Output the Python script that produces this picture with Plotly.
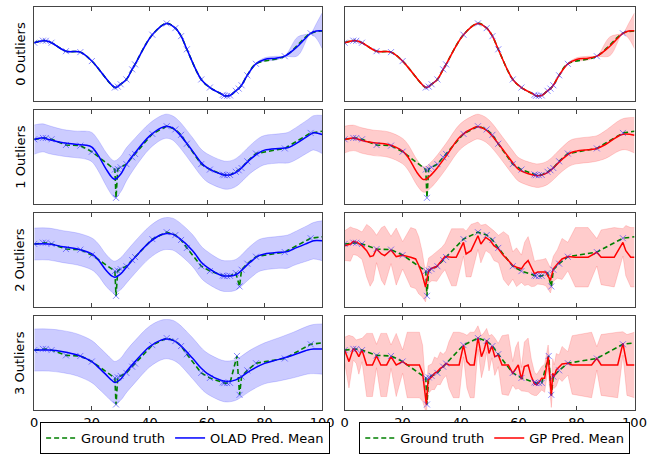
import plotly.graph_objects as go

# ---------------- data ----------------
X_TICKS = [0, 20, 40, 60, 80, 100]
ROW_LABELS = ["0 Outliers", "1 Outliers", "2 Outliers", "3 Outliers"]
Y_RANGES = [[0, 10], [-4.0, 10.8], [-4.9, 11.6], [-4.1, 12.0]]
TRUTH_END_X = 100
TRUTH_END_Y = 7.45

# observed samples (markers) per row, incl. outliers
row0_x = [0, 3, 4, 6, 11, 16, 20, 28, 29, 30, 32, 34, 35, 41, 46, 49, 51, 53, 58, 61, 65.5, 66, 67, 68, 70, 71, 72, 74, 77, 87, 96]
row0_y = [6.2, 6.42, 6.4, 6.2, 5.3, 5.2, 4.25, 1.44, 1.54, 1.79, 2.3, 3.37, 3.9, 7.05, 8.25, 7.75, 6.9, 5.5, 2.3, 1.44, 0.67, 0.56, 0.56, 0.6, 1.09, 1.33, 1.68, 2.74, 3.96, 4.77, 7.2]
row1_x = [0, 3, 4, 6, 11, 16, 20, 28, 28.4, 29, 30, 32, 34, 35, 41, 46, 49, 51, 53, 58, 61, 65.5, 66, 67, 68, 70, 71, 72, 74, 77, 87, 96]
row1_y = [6.2, 6.42, 6.4, 6.2, 5.3, 5.2, 4.25, 1.44, -3.0, 1.54, 1.79, 2.3, 3.37, 3.9, 7.05, 8.25, 7.75, 6.9, 5.5, 2.3, 1.44, 0.67, 0.56, 0.56, 0.6, 1.09, 1.33, 1.68, 2.74, 3.96, 4.77, 7.2]
row2_x = [0, 3, 4, 6, 11, 16, 20, 28, 28.4, 29, 30, 32, 34, 35, 41, 46, 49, 51, 53, 58, 61, 65.5, 66, 67, 68, 70, 71.3, 72, 74, 77, 87, 96]
row2_y = [6.2, 6.42, 6.4, 6.2, 5.3, 5.2, 4.25, 1.44, -2.9, 1.54, 1.79, 2.3, 3.37, 3.9, 7.05, 8.25, 7.75, 6.9, 5.5, 2.3, 1.44, 0.67, 0.56, 0.56, 0.6, 1.09, -1.25, 1.68, 2.74, 3.96, 4.77, 7.2]
row3_x = [0, 3, 4, 6, 11, 16, 20, 28, 28.4, 29, 30, 32, 34, 35, 41, 46, 49, 51, 53, 58, 61, 65.5, 66, 67, 68, 70.4, 71.3, 72, 74, 77, 87, 96]
row3_y = [6.2, 6.42, 6.4, 6.2, 5.3, 5.2, 4.25, 1.44, -3.1, 1.54, 1.79, 2.3, 3.37, 3.9, 7.05, 8.25, 7.75, 6.9, 5.5, 2.3, 1.44, 0.67, 0.56, 0.56, 0.6, 5.2, -1.45, 1.68, 2.74, 3.96, 4.77, 7.2]

# row 0 prediction (same for OLAD and GP)
pred0_x = [0, 3, 4, 6, 11, 16, 20, 28, 29, 30, 32, 34, 35, 41, 46, 49, 51, 53, 58, 61, 65.5, 66, 67, 68, 70, 71, 72, 74, 77, 80, 84, 87, 91.5, 96, 98, 100]
pred0_mean = [6.2, 6.42, 6.4, 6.2, 5.3, 5.2, 4.25, 1.44, 1.54, 1.79, 2.3, 3.37, 3.9, 7.05, 8.25, 7.75, 6.9, 5.5, 2.3, 1.44, 0.67, 0.56, 0.56, 0.6, 1.09, 1.33, 1.68, 2.74, 3.96, 4.42, 4.56, 4.77, 5.82, 7.2, 7.45, 7.47]
pred0_hw = [0.06, 0.06, 0.06, 0.06, 0.06, 0.06, 0.06, 0.06, 0.06, 0.06, 0.06, 0.06, 0.06, 0.06, 0.06, 0.06, 0.06, 0.06, 0.06, 0.06, 0.06, 0.06, 0.06, 0.06, 0.06, 0.06, 0.06, 0.06, 0.06, 0.18, 0.2, 0.05, 1.0, 0.05, 0.8, 1.9]

# OLAD predictions
olad1_x = [0, 3, 5, 10, 15, 18, 20, 22, 25, 27, 28, 30, 32, 35, 40, 44, 46, 48, 50, 55, 58, 60, 65, 67, 70, 75, 78, 80, 85, 88, 90, 95, 97, 100]
olad1_mean = [6.16, 6.43, 6.16, 5.64, 5.38, 5.28, 4.97, 3.82, 1.48, 0.2, -0.09, 0.7, 2.26, 4.08, 6.69, 7.99, 8.25, 7.99, 7.21, 4.34, 2.52, 1.74, 0.7, 0.54, 0.96, 3.04, 4.08, 4.5, 4.76, 4.86, 5.28, 6.69, 7.21, 6.95]
olad1_hw = [2.3, 2.2, 2.2, 2.1, 2.1, 2.2, 2.3, 2.4, 2.6, 2.8, 2.9, 2.8, 2.6, 2.3, 2.0, 1.9, 1.9, 1.9, 2.0, 2.1, 2.1, 2.2, 2.2, 2.2, 2.2, 2.2, 2.3, 2.3, 2.3, 2.4, 2.5, 2.6, 2.7, 3.0]
olad2_x = [0, 5, 10, 15, 20, 22, 25, 27, 28, 30, 32, 35, 40, 44, 46, 48, 50, 55, 58, 60, 65, 67, 70, 75, 78, 80, 85, 88, 90, 95, 97, 100]
olad2_mean = [6.18, 6.18, 5.72, 5.31, 4.44, 3.57, 1.54, 0.56, 0.38, 0.96, 2.12, 3.86, 6.47, 7.8, 8.03, 7.92, 7.34, 5.02, 2.99, 2.12, 0.67, 0.56, 0.79, 2.99, 4.15, 4.44, 4.73, 4.85, 5.31, 6.35, 6.76, 6.76]
olad2_hw = [2.8, 2.8, 2.8, 2.8, 2.8, 2.8, 2.8, 2.8, 2.8, 2.8, 2.8, 2.8, 2.8, 2.8, 2.8, 2.8, 2.8, 2.8, 2.8, 2.8, 2.7, 2.7, 2.7, 2.8, 2.8, 2.8, 2.8, 2.9, 2.9, 3.1, 3.2, 3.5]
olad3_x = [0, 5, 10, 15, 20, 22, 25, 27, 28, 30, 32, 35, 40, 44, 46, 48, 50, 55, 58, 60, 65, 67, 70, 72, 75, 80, 85, 90, 95, 97, 100]
olad3_mean = [6.21, 6.21, 5.93, 5.36, 4.23, 3.38, 1.96, 1.0, 0.66, 1.22, 2.53, 4.23, 6.78, 7.91, 8.08, 7.91, 7.35, 4.8, 3.1, 2.24, 1.0, 0.83, 1.11, 1.68, 2.7, 3.94, 4.62, 5.36, 6.21, 6.38, 6.38]
olad3_hw = [3.6, 3.6, 3.6, 3.6, 3.6, 3.6, 3.6, 3.6, 3.6, 3.6, 3.6, 3.6, 3.5, 3.4, 3.35, 3.4, 3.4, 3.5, 3.5, 3.5, 3.5, 3.5, 3.5, 3.5, 3.5, 3.5, 3.7, 3.9, 4.1, 4.2, 4.3]

# GP predictions
gp1_x = [0, 3, 6, 10, 15, 20, 22, 25, 27, 28, 30, 32, 35, 40, 45, 46, 48, 50, 55, 58, 60, 65, 67, 70, 75, 78, 80, 85, 87, 90, 95, 97, 100]
gp1_mean = [6.16, 6.42, 6.0, 5.64, 5.38, 4.34, 3.3, 0.95, -0.09, -0.09, 0.69, 1.74, 3.56, 6.68, 8.09, 8.19, 7.88, 7.2, 4.34, 2.52, 1.47, 0.59, 0.49, 0.95, 3.04, 4.08, 4.34, 4.6, 4.76, 5.38, 6.84, 7.05, 6.84]
gp1_hw = [2.1, 2.0, 2.0, 2.0, 2.0, 2.0, 2.0, 2.0, 2.0, 2.0, 2.0, 2.0, 2.0, 2.0, 1.95, 1.95, 1.95, 1.95, 1.9, 1.9, 1.85, 1.85, 1.85, 1.85, 1.9, 2.0, 2.0, 2.0, 2.0, 2.2, 2.4, 2.5, 2.8]

gp2_x = [0, 2, 3, 4.3, 6, 7.6, 8.8, 9.9, 11, 12.7, 13.8, 16, 17.8, 20, 22.8, 24.5, 25.6, 26.7, 27.9, 28.4, 29, 30.1, 31.8, 33.5, 34.6, 36.9, 38.5, 41, 41.9, 43.6, 46, 47, 48.7, 50.3, 51.5, 53.1, 54.8, 56.5, 58, 59.3, 61, 62.1, 63.3, 64.4, 65.5, 66.6, 68.3, 69.4, 71, 72, 73.4, 75, 77, 79.6, 84, 87, 88.5, 93, 96, 97, 98.7, 100]
gp2_mean = [5.89, 6.18, 6.65, 6.47, 5.89, 5.02, 3.98, 4.15, 5.31, 4.44, 4.15, 5.14, 3.98, 4.2, 3.86, 3.57, 2.42, 0.97, -1.35, 0.1, 1.55, 1.95, 2.24, 3.28, 3.98, 3.86, 3.86, 6.47, 4.44, 5.02, 7.63, 6.18, 7.34, 6.76, 5.89, 5.31, 4.15, 3.28, 2.42, 2.12, 1.84, 2.7, 3.28, 2.12, 0.97, 1.26, 1.26, 1.26, -0.19, 1.84, 2.7, 3.57, 3.98, 3.86, 3.86, 4.73, 3.86, 3.86, 6.47, 5.02, 3.86, 3.86]
gp2_hw = [2.6, 3.0, 2.3, 2.3, 2.4, 4.6, 5.2, 4.4, 2.4, 4.6, 5.2, 2.4, 5.0, 2.4, 5.2, 5.2, 5.0, 4.0, 2.6, 2.6, 2.2, 2.2, 2.6, 2.3, 2.3, 5.0, 5.0, 2.4, 4.0, 4.6, 2.4, 3.3, 2.3, 2.3, 2.6, 2.4, 4.2, 4.4, 2.4, 3.4, 2.4, 3.8, 4.2, 3.4, 2.2, 2.1, 2.2, 2.4, 2.2, 2.2, 2.5, 3.6, 2.5, 5.2, 5.2, 2.4, 4.8, 5.2, 2.4, 4.4, 5.2, 5.2]

gp3_x = [0, 1.5, 3, 4, 4.9, 6, 7.6, 9.6, 11, 12.5, 14.5, 16, 17.8, 20, 21.6, 25.8, 26.9, 28.2, 28.8, 29.5, 30.1, 31, 32, 33, 34, 35, 36, 37.5, 39.5, 41, 42.2, 43.3, 44.7, 46, 47.2, 48.1, 49, 49.8, 50.8, 51.8, 53, 54.3, 56.5, 58, 59, 59.9, 61, 62, 63.3, 64.4, 65.5, 66.3, 67.2, 68, 69, 70.2, 70.7, 71.3, 71.8, 72.3, 73, 74, 75, 77, 78.5, 85.2, 87, 88.5, 94.2, 96, 97.4, 100]
gp3_mean = [6.21, 4.23, 6.49, 5.93, 5.08, 6.21, 3.66, 3.66, 5.19, 3.66, 3.66, 5.08, 3.66, 4.23, 3.66, 3.66, 2.24, -3.14, 1.11, 1.39, 1.67, 2.24, 2.53, 3.09, 3.38, 3.94, 3.66, 3.66, 3.66, 7.06, 4.23, 3.66, 3.66, 8.36, 5.08, 6.21, 7.91, 5.64, 6.89, 5.08, 5.36, 3.66, 3.66, 2.24, 3.09, 3.66, 1.22, 3.38, 3.66, 1.67, 0.43, 0.26, 0.82, 1.4, 1.39, 5.08, 2.24, -1.61, 2.24, 1.67, 2.81, 3.38, 3.83, 3.94, 3.66, 3.66, 4.79, 3.66, 3.66, 7.34, 3.66, 3.66]
gp3_hw = [2.2, 4.5, 2.0, 2.0, 3.0, 2.0, 5.4, 5.4, 2.0, 5.4, 5.4, 2.0, 5.4, 2.0, 5.6, 5.6, 4.8, 1.5, 2.4, 2.3, 2.2, 2.8, 2.2, 2.8, 2.1, 2.1, 4.0, 5.6, 5.6, 2.0, 4.5, 5.6, 5.6, 2.0, 3.6, 3.0, 2.0, 3.0, 2.0, 3.2, 2.0, 5.0, 5.2, 2.0, 3.6, 4.0, 2.0, 4.2, 4.6, 3.0, 2.0, 1.8, 1.9, 2.0, 2.4, 2.0, 2.5, 2.0, 2.5, 2.0, 2.8, 2.0, 3.0, 2.0, 5.0, 5.6, 2.0, 5.2, 5.6, 2.0, 5.2, 5.6]

# ---------------- figure ----------------
W, H = 667, 454
COL_PX = [(31, 326), (349, 646)]
ROW_PX = [(7, 102), (111, 206), (215, 310), (319, 414)]

BLUE = "#0000ff"
RED = "#ff0000"
GREEN = "#008000"
BAND = ["rgba(0,0,255,0.2)", "rgba(255,0,0,0.2)"]
BAND_EDGE = ["rgba(0,0,255,0.25)", "rgba(255,0,0,0.25)"]
MEAN_COL = [BLUE, RED]
MEAN_NAME = ["OLAD Pred. Mean", "GP Pred. Mean"]
FONT = "DejaVu Sans, Liberation Sans, sans-serif"
FRAME = "#444444"

data_rows = [(row0_x, row0_y), (row1_x, row1_y), (row2_x, row2_y), (row3_x, row3_y)]
pred = {
    (0, 0): (pred0_x, pred0_mean, pred0_hw, "spline"),
    (1, 0): (olad1_x, olad1_mean, olad1_hw, "spline"),
    (2, 0): (olad2_x, olad2_mean, olad2_hw, "spline"),
    (3, 0): (olad3_x, olad3_mean, olad3_hw, "spline"),
    (0, 1): (pred0_x, pred0_mean, pred0_hw, "spline"),
    (1, 1): (gp1_x, gp1_mean, gp1_hw, "spline"),
    (2, 1): (gp2_x, gp2_mean, gp2_hw, "linear"),
    (3, 1): (gp3_x, gp3_mean, gp3_hw, "linear"),
}

fig = go.Figure()
layout = dict(
    width=W, height=H, autosize=False,
    margin=dict(l=0, r=0, t=0, b=0),
    paper_bgcolor="white", plot_bgcolor="white",
    font=dict(family=FONT, size=13, color="black"),
    annotations=[],
)

for r in range(4):
    for c in range(2):
        i = r * 2 + c + 1
        xa = "x" if i == 1 else f"x{i}"
        ya = "y" if i == 1 else f"y{i}"
        px, mean, hw, shape = pred[(r, c)]
        upper = [m + h for m, h in zip(mean, hw)]
        lower = [m - h for m, h in zip(mean, hw)]
        dx, dy = data_rows[r]
        tx = dx + [TRUTH_END_X]
        ty = dy + [TRUTH_END_Y]
        leg = "legend" if c == 0 else "legend2"
        show = (r == 3)
        truth_shape = "spline" if r == 0 else "linear"

        fig.add_trace(go.Scatter(x=px, y=lower, mode="lines", line=dict(width=0.6, color=BAND_EDGE[c], shape=shape),
                                 xaxis=xa, yaxis=ya, showlegend=False, hoverinfo="skip"))
        fig.add_trace(go.Scatter(x=px, y=upper, mode="lines", line=dict(width=0.6, color=BAND_EDGE[c], shape=shape),
                                 fill="tonexty", fillcolor=BAND[c],
                                 xaxis=xa, yaxis=ya, showlegend=False, hoverinfo="skip"))
        fig.add_trace(go.Scatter(x=tx, y=ty, mode="lines", name="Ground truth",
                                 line=dict(color=GREEN, width=1.6, dash="5px,3px", shape=truth_shape),
                                 xaxis=xa, yaxis=ya, showlegend=show, legend=leg))
        fig.add_trace(go.Scatter(x=px, y=mean, mode="lines", name=MEAN_NAME[c],
                                 line=dict(color=MEAN_COL[c], width=1.5, shape=shape),
                                 xaxis=xa, yaxis=ya, showlegend=show, legend=leg))
        fig.add_trace(go.Scatter(x=dx, y=dy, mode="markers",
                                 marker=dict(symbol="x-thin", size=6, line=dict(width=1, color="rgba(40,40,255,0.55)")),
                                 xaxis=xa, yaxis=ya, showlegend=False, hoverinfo="skip"))

        x0, x1 = COL_PX[c]
        y0, y1 = ROW_PX[r]
        layout["xaxis" if i == 1 else f"xaxis{i}"] = dict(
            domain=[x0 / W, x1 / W], anchor=ya, range=[0, 100],
            tickvals=X_TICKS, ticktext=[str(v) for v in X_TICKS],
            showticklabels=(r == 3), ticks="inside", ticklen=4, tickwidth=1, tickcolor=FRAME,
            showline=True, linecolor=FRAME, linewidth=1, mirror="ticks",
            showgrid=False, zeroline=False, tickfont=dict(size=13, family=FONT),
        )
        layout["yaxis" if i == 1 else f"yaxis{i}"] = dict(
            domain=[1 - y1 / H, 1 - y0 / H], anchor=xa, range=Y_RANGES[r],
            showticklabels=False, ticks="", showline=True, linecolor=FRAME, linewidth=1, mirror=True,
            showgrid=False, zeroline=False,
        )
    layout["annotations"].append(dict(
        text=ROW_LABELS[r], xref="paper", yref="paper", x=16 / W, y=1 - (ROW_PX[r][0] + ROW_PX[r][1]) / 2 / H,
        xanchor="center", yanchor="middle", textangle=-90, showarrow=False,
        font=dict(size=13, family=FONT, color="black"),
    ))

legend_common = dict(
    orientation="h", yanchor="top", xanchor="left", traceorder="normal",
    bordercolor="black", borderwidth=1, bgcolor="white",
    font=dict(size=13, family=FONT), tracegroupgap=0,
)
layout["legend"] = dict(legend_common, x=37 / W, y=1 - 426 / H)
layout["legend2"] = dict(legend_common, x=364 / W, y=1 - 426 / H)

fig.update_layout(**layout)
fig.write_html("out.html", config={"displayModeBar": False},
               post_script="document.body.style.margin='0px';document.body.style.overflow='hidden';")
